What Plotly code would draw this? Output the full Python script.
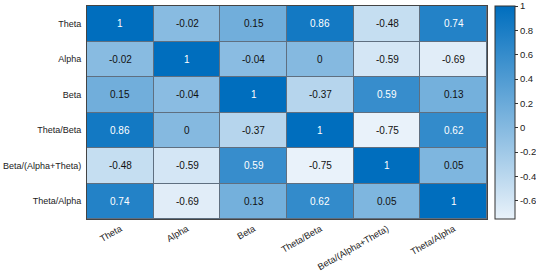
import plotly.graph_objects as go

labels = ["Theta", "Alpha", "Beta", "Theta/Beta", "Beta/(Alpha+Theta)", "Theta/Alpha"]
values = [
    [1, -0.02, 0.15, 0.86, -0.48, 0.74],
    [-0.02, 1, -0.04, 0, -0.59, -0.69],
    [0.15, -0.04, 1, -0.37, 0.59, 0.13],
    [0.86, 0, -0.37, 1, -0.75, 0.62],
    [-0.48, -0.59, 0.59, -0.75, 1, 0.05],
    [0.74, -0.69, 0.13, 0.62, 0.05, 1],
]
cbar_ticks = [-0.6, -0.4, -0.2, 0, 0.2, 0.4, 0.6, 0.8, 1]
zmin, zmax = -0.75, 1.0

font = "Liberation Sans, Arial, sans-serif"

fig = go.Figure()
fig.add_trace(go.Heatmap(
    z=values, x=labels, y=labels,
    zmin=zmin, zmax=zmax,
    colorscale=[[0, "rgb(233,242,250)"], [1, "rgb(0,110,190)"]],
    xgap=1, ygap=1,
    hoverinfo="skip",
    colorbar=dict(
        x=1.02, xanchor="left", xpad=0, xref="paper",
        len=1, lenmode="fraction", y=0.5, yanchor="middle", ypad=0,
        thickness=20, outlinecolor="#333", outlinewidth=1,
        tickvals=cbar_ticks, ticktext=[f"{t:g}" for t in cbar_ticks],
        ticks="outside", ticklen=3, tickcolor="#333",
        ticklabeloverflow="allow",
        tickfont=dict(family=font, size=9.5, color="#222"),
    ),
))

for i, row in enumerate(values):
    for j, v in enumerate(row):
        fig.add_annotation(
            x=labels[j], y=labels[i], text=f"{v:g}", showarrow=False,
            font=dict(family=font, size=10, color="white" if v > 0.5 else "#111"),
        )

fig.update_xaxes(tickangle=-30, tickfont=dict(family=font, size=9.2, color="#222"),
                 showline=True, linecolor="#444", linewidth=1, mirror=True,
                 ticks="", showgrid=False, zeroline=False, automargin=False)
fig.update_yaxes(autorange="reversed", tickfont=dict(family=font, size=9, color="#222"),
                 showline=True, linecolor="#444", linewidth=1, mirror=True,
                 ticks="", showgrid=False, zeroline=False, ticklabelstandoff=3,
                 automargin=False)

fig.update_layout(
    width=536, height=274,
    margin=dict(l=87, r=49, t=6, b=55, autoexpand=False),
    plot_bgcolor="#5f6f80", paper_bgcolor="white",
)
fig.write_html("out.html", config={"displayModeBar": False},
               post_script="document.body.style.margin='0';")
